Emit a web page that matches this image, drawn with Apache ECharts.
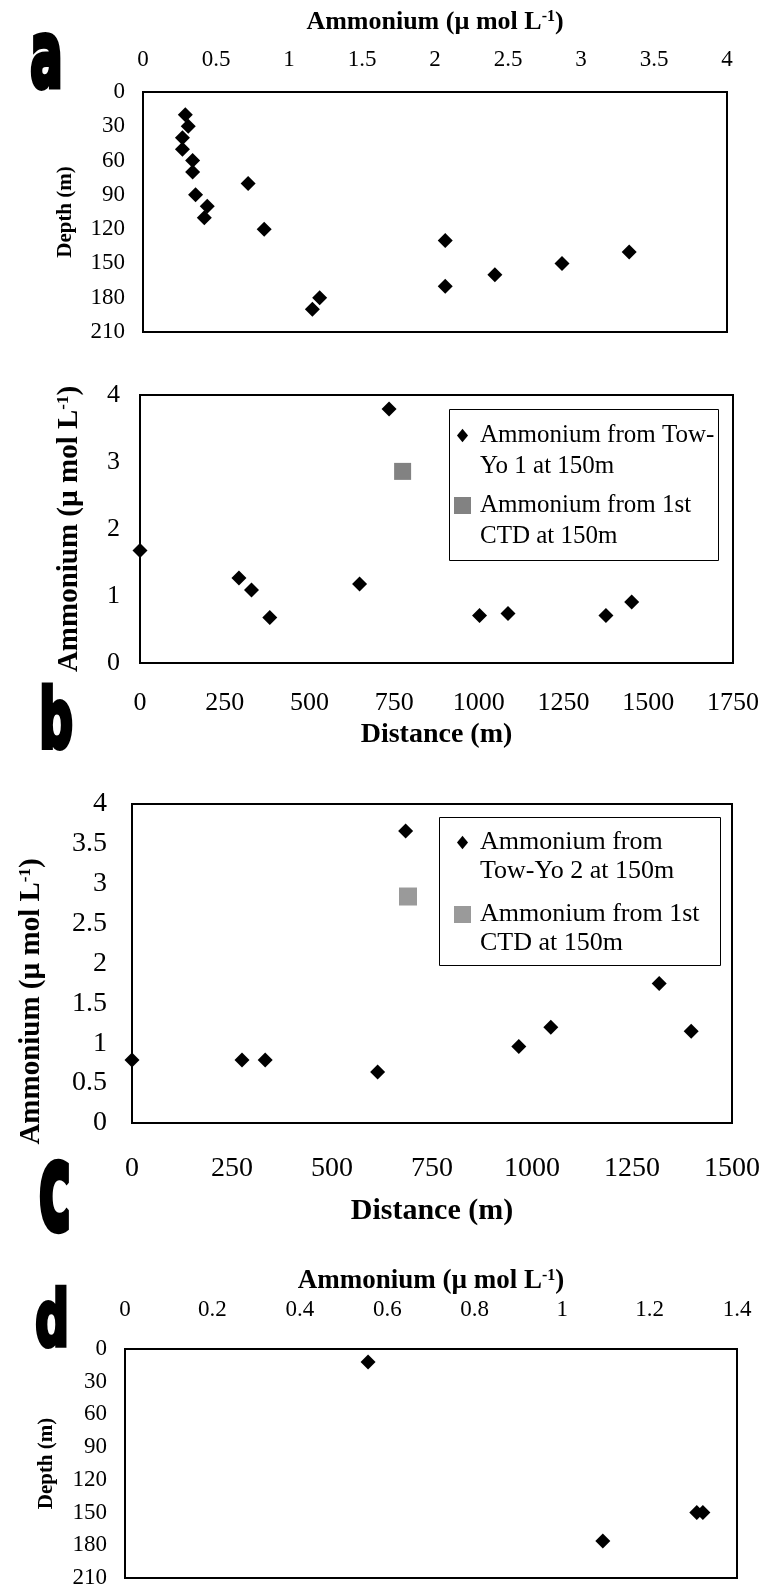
<!DOCTYPE html>
<html><head><meta charset="utf-8">
<script src="https://cdn.jsdelivr.net/npm/echarts@6/dist/echarts.min.js"></script>
<style>html,body{margin:0;padding:0;background:#fff}#chart{width:765px;height:1590px}</style>
</head><body><div id="chart"></div>
<script>
// Panel a: depth profile
const aAmmonium = [0.29, 0.31, 0.27, 0.27, 0.34, 0.34, 0.72, 0.36, 0.44, 0.42, 0.83, 2.07, 3.33, 2.87, 2.41, 2.07, 1.21, 1.16];
const aDepth    = [20, 30, 40, 50, 60, 70, 80, 90, 100, 110, 120, 130, 140, 150, 160, 170, 180, 190];
// Panel b: Tow-Yo 1 at 150 m
const bDistance  = [0, 292, 329, 383, 648, 735, 1002, 1086, 1375, 1451];
const bAmmonium  = [1.68, 1.27, 1.09, 0.68, 1.18, 3.79, 0.71, 0.74, 0.71, 0.91];
const bCtdDistance = [775];
const bCtdAmmonium = [2.86];
// Panel c: Tow-Yo 2 at 150 m
const cDistance  = [0, 275, 333, 614, 684, 967, 1047, 1318, 1398];
const cAmmonium  = [0.79, 0.79, 0.79, 0.64, 3.66, 0.96, 1.2, 1.75, 1.15];
const cCtdDistance = [690];
const cCtdAmmonium = [2.84];
// Panel d: depth profile
const dAmmonium = [0.556, 1.093, 1.308, 1.322];
const dDepth    = [12, 176, 150, 150];

const ammoniumTitle = 'Ammonium (µ mol L{sup|-1})';
const depthTitle = 'Depth (m)';
const distanceTitle = 'Distance (m)';
const panelLetters = ['a', 'b', 'c', 'd'];
const seriesNames = {
  bTow: 'Ammonium from Tow-Yo 1 at 150m',
  bCtd: 'Ammonium from 1st CTD at 150m',
  cTow: 'Ammonium from Tow-Yo 2 at 150m',
  cCtd: 'Ammonium from 1st CTD at 150m (c)'
};
const legendLines = {};
legendLines[seriesNames.bTow] = '\nAmmonium from Tow-\nYo 1 at 150m';
legendLines[seriesNames.bCtd] = '\nAmmonium from 1st\nCTD at 150m';
legendLines[seriesNames.cTow] = '\nAmmonium from\nTow-Yo 2 at 150m';
legendLines[seriesNames.cCtd] = '\nAmmonium from 1st\nCTD at 150m';
const legendDiamond = 'path://M0,0M20,20M10,2L16.5,10L10,18L3.5,10Z';

const serif = 'Liberation Serif';
function pairs(xs, ys) { return xs.map((x, i) => [x, ys[i]]); }
function supRich(size) {
  return { sup: { fontFamily: serif, fontWeight: 'bold', fontSize: size, color: '#000', verticalAlign: 'top' } };
}
function gridBox(left, top, width, height) {
  return { left, top, width, height, show: true, borderColor: '#000', borderWidth: 2,
           backgroundColor: 'transparent', containLabel: false, outerBoundsMode: 'none' };
}
function valueAxis(o) {
  return Object.assign({
    type: 'value', axisLine: { show: false }, axisTick: { show: false }, splitLine: { show: false },
    nameLocation: 'middle', nameMoveOverlap: false,
    axisLabel: { fontFamily: serif, fontSize: o.fs, color: '#000', margin: o.margin, showMinLabel: true, showMaxLabel: true,
                 formatter: v => String(v) },
    nameTextStyle: Object.assign({ fontFamily: serif, fontWeight: 'bold', fontSize: o.nfs, color: '#000',
                     rich: supRich(Math.round(o.nfs * 0.6)) }, o.nameStyle || {})
  }, o.extra);
}

const chart = echarts.init(document.getElementById('chart'));
function letter(t, x, y, sx, sy, fs) {
  return { type: 'text', x: x, y: y, scaleX: sx, scaleY: sy, silent: true,
    style: { text: t, font: 'bold ' + fs + 'px "DejaVu Sans"', fill: '#000', stroke: '#000', lineWidth: 3,
             align: 'center', verticalAlign: 'middle' } };
}
function pointStyle(color) { return { color: color, opacity: 1 }; }

chart.setOption({
  animation: false,
  backgroundColor: '#fff',
  grid: [
    gridBox(143, 92, 584, 240),
    gridBox(140, 395, 593, 268),
    gridBox(132, 804, 600, 319),
    gridBox(125, 1349, 612, 229)
  ],
  xAxis: [
    valueAxis({ fs: 23, margin: 21, nfs: 26, extra: { gridIndex: 0, position: 'top', min: 0, max: 4, interval: 0.5, name: ammoniumTitle, nameGap: 57 } }),
    valueAxis({ fs: 26, margin: 27, nfs: 28, extra: { gridIndex: 1, min: 0, max: 1750, interval: 250, name: distanceTitle, nameGap: 58 } }),
    valueAxis({ fs: 28, margin: 32, nfs: 30, extra: { gridIndex: 2, min: 0, max: 1500, interval: 250, name: distanceTitle, nameGap: 73 } }),
    valueAxis({ fs: 23, margin: 28, nfs: 27, extra: { gridIndex: 3, position: 'top', min: 0, max: 1.4, interval: 0.2, name: ammoniumTitle, nameGap: 54 } })
  ],
  yAxis: [
    valueAxis({ fs: 23, margin: 18, nfs: 21, extra: { gridIndex: 0, inverse: true, min: 0, max: 210, interval: 30, name: depthTitle, nameGap: 67 } }),
    valueAxis({ fs: 26, margin: 20, nfs: 29, extra: { gridIndex: 1, min: 0, max: 4, interval: 1, name: ammoniumTitle, nameGap: 56 } }),
    valueAxis({ fs: 28, margin: 25, nfs: 29, nameStyle: { padding: [0, 76, 0, 0] },
                extra: { gridIndex: 2, min: 0, max: 4, interval: 0.5, name: ammoniumTitle, nameGap: 86 } }),
    valueAxis({ fs: 23, margin: 18, nfs: 21, extra: { gridIndex: 3, inverse: true, min: 0, max: 210, interval: 30, name: depthTitle, nameGap: 68 } })
  ],
  legend: [
    { orient: 'vertical', left: 449, top: 384, itemWidth: 17, itemHeight: 17, itemGap: -23, selectedMode: false,
      data: [{ name: seriesNames.bTow, icon: legendDiamond }, { name: seriesNames.bCtd, icon: 'rect' }],
      formatter: n => legendLines[n],
      textStyle: { fontFamily: serif, fontSize: 25, color: '#000', lineHeight: 31, padding: [0, 0, 0, 4] } },
    { orient: 'vertical', left: 449, top: 794, itemWidth: 17, itemHeight: 17, itemGap: -15, selectedMode: false,
      data: [{ name: seriesNames.cTow, icon: legendDiamond }, { name: seriesNames.cCtd, icon: 'rect' }],
      formatter: n => legendLines[n],
      textStyle: { fontFamily: serif, fontSize: 26, color: '#000', lineHeight: 29, padding: [0, 0, 0, 4] } }
  ],
  graphic: [
    { type: 'rect', shape: { x: 449.5, y: 409.5, width: 269, height: 151 }, style: { fill: 'none', stroke: '#000', lineWidth: 1 }, silent: true },
    { type: 'rect', shape: { x: 439.5, y: 817.5, width: 281, height: 148 }, style: { fill: 'none', stroke: '#000', lineWidth: 1 }, silent: true },
    letter(panelLetters[0], 46.5, 63.5, 1.0, 1.92, 48),
    letter(panelLetters[1], 56, 725.5, 0.98, 1.72, 48),
    letter(panelLetters[2], 55, 1198, 1.0, 2.2, 54),
    letter(panelLetters[3], 52, 1325.5, 0.98, 1.58, 48)
  ],
  series: [
    { type: 'scatter', name: 'Depth profile a', xAxisIndex: 0, yAxisIndex: 0, symbol: 'diamond', symbolSize: 15,
      itemStyle: pointStyle('#000'), data: pairs(aAmmonium, aDepth) },
    { type: 'scatter', name: seriesNames.bTow, xAxisIndex: 1, yAxisIndex: 1, symbol: 'diamond', symbolSize: 15,
      itemStyle: pointStyle('#000'), data: pairs(bDistance, bAmmonium) },
    { type: 'scatter', name: seriesNames.bCtd, xAxisIndex: 1, yAxisIndex: 1, symbol: 'rect', symbolSize: 17,
      itemStyle: pointStyle('#828282'), data: pairs(bCtdDistance, bCtdAmmonium) },
    { type: 'scatter', name: seriesNames.cTow, xAxisIndex: 2, yAxisIndex: 2, symbol: 'diamond', symbolSize: 15,
      itemStyle: pointStyle('#000'), data: pairs(cDistance, cAmmonium) },
    { type: 'scatter', name: seriesNames.cCtd, xAxisIndex: 2, yAxisIndex: 2, symbol: 'rect', symbolSize: 18,
      itemStyle: pointStyle('#9a9a9a'), data: pairs(cCtdDistance, cCtdAmmonium) },
    { type: 'scatter', name: 'Depth profile d', xAxisIndex: 3, yAxisIndex: 3, symbol: 'diamond', symbolSize: 15,
      itemStyle: pointStyle('#000'), data: pairs(dAmmonium, dDepth) }
  ]
});
</script>
</body></html>
